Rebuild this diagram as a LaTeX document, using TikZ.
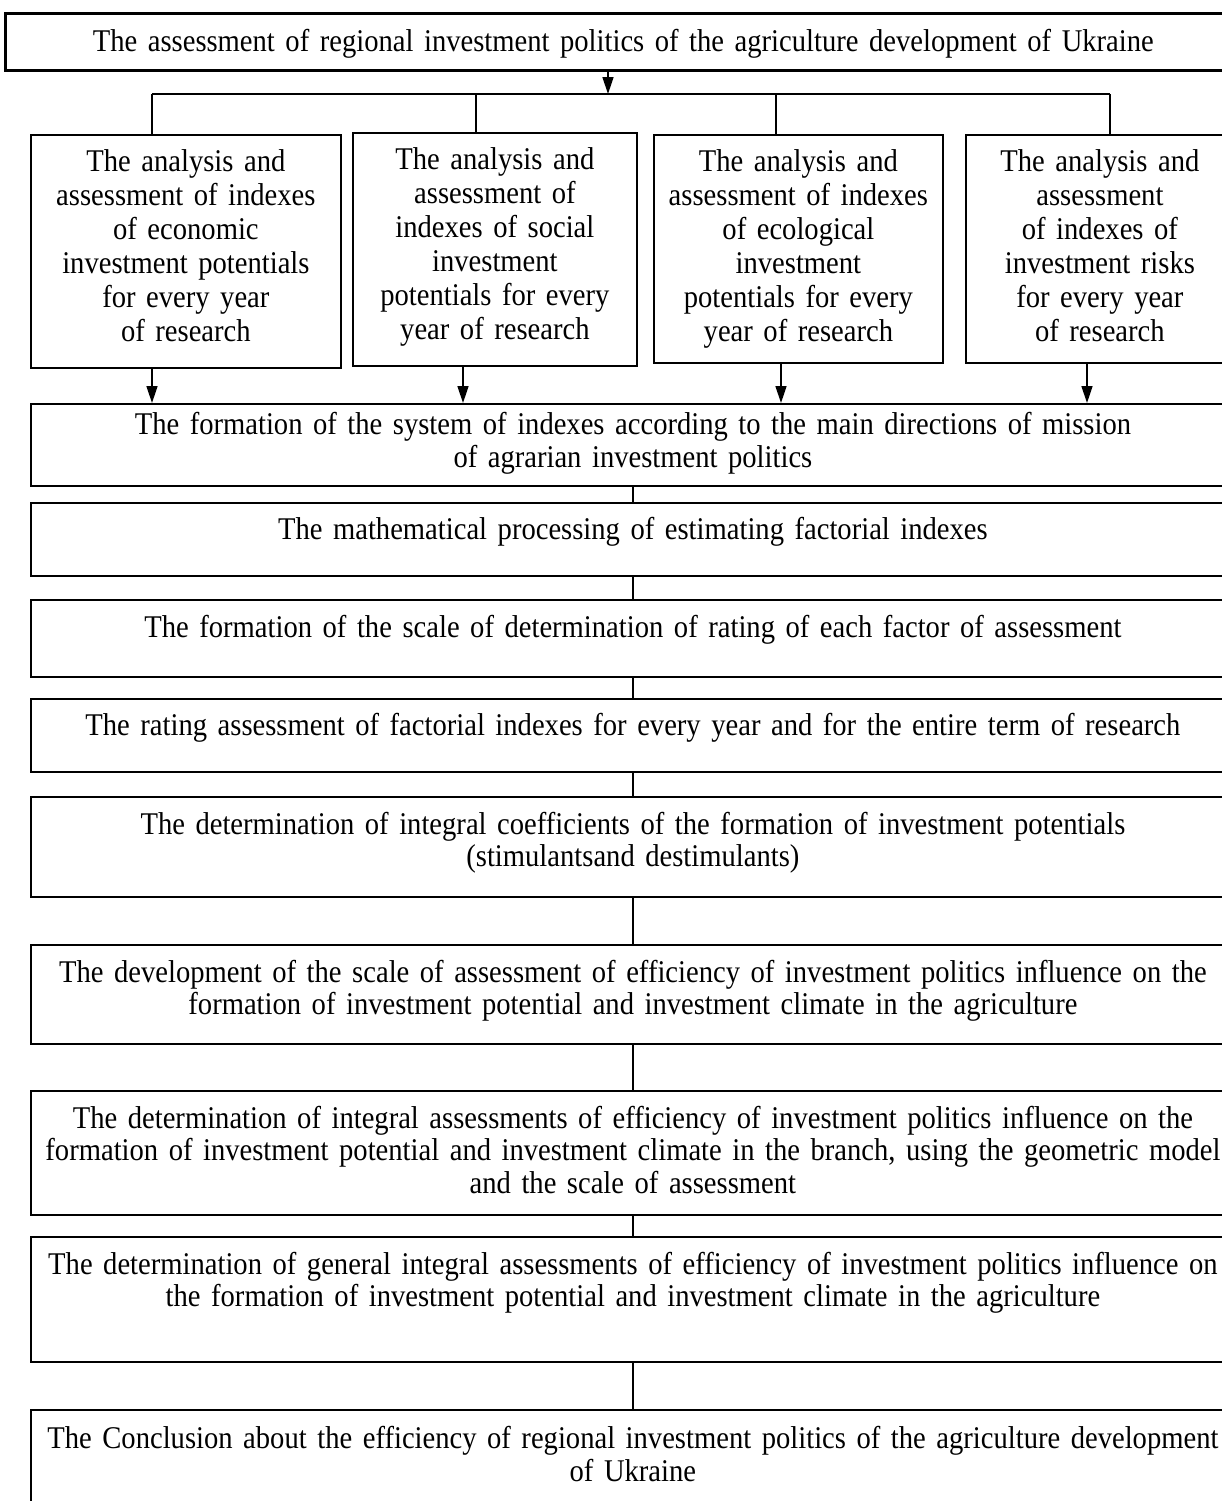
\documentclass[tikz,border=0pt]{standalone}
\usepackage{fontspec}
\setmainfont{Liberation Serif}[FakeStretch=0.905, WordSpace=0.85]
\usetikzlibrary{arrows.meta}

\begin{document}
\begin{tikzpicture}[
            x=0.5pt, y=-0.5pt,
            box/.style={draw, line width=0.9pt, anchor=north west, inner sep=0pt,
                align=center, text height=18.75pt},
            small/.style={box, text height=18.5pt, font=\fontsize{15.8}{17}\selectfont},
            wide/.style={box, text width=602pt, font=\fontsize{15.8}{16.25}\selectfont},
            link/.style={line width=0.7pt},
            flow/.style={link, -{Triangle[length=8.5pt,width=5.5pt]}},
            busline/.style={line width=1.3pt}
            ]
        \useasboundingbox (0,0) rectangle (1222,1501);
        \clip (0,0) rectangle (1222,1501);

        % head of the scheme
        \node[box, line width=1.3pt, text width=618pt, text height=19pt, text depth=9.5pt,
            font=\fontsize{15.8}{17}\selectfont] (top) at (4,12)
            {The assessment of regional investment politics of the agriculture development of Ukraine};

        % four analysis blocks
        \node[small, text width=155pt, text depth=98pt] (a1) at (30,134)
            {The analysis and\\assessment of indexes\\of economic\\investment potentials\\for every year\\of research};
        \node[small, text width=142pt, text depth=98pt] (a2) at (352,132)
            {The analysis and\\assessment of\\indexes of social\\investment\\potentials for every\\year of research};
        \node[small, text width=144.5pt, text depth=95.5pt] (a3) at (653,134)
            {The analysis and\\assessment of indexes\\of ecological\\investment\\potentials for every\\year of research};
        \node[small, text width=134pt, text depth=95.5pt] (a4) at (965,134)
            {The analysis and\\assessment\\of indexes of\\investment risks\\for every year\\of research};

        % chain of stages
        \node[wide, text height=15.5pt, text depth=25.5pt] (f1) at (30,403)
            {The formation of the system of indexes according to the main directions of mission\\of agrarian investment politics};
        \node[wide, text height=18.5pt, text depth=18pt] (m) at (30,502)
            {The mathematical processing of estimating factorial indexes};
        \node[wide, text depth=19.75pt] (s) at (30,599)
            {The formation of the scale of determination of rating of each factor of assessment};
        \node[wide, text height=18.5pt, text depth=18pt] (r) at (30,698)
            {The rating assessment of factorial indexes for every year and for the entire term of research};
        \node[wide, text depth=31.25pt] (c) at (30,796)
            {The determination of integral coefficients of the formation of investment potentials\\(stimulantsand destimulants)};
        \node[wide, text depth=30.75pt] (d) at (30,944)
            {The development of the scale of assessment of efficiency of investment politics influence on the\\formation of investment potential and investment climate in the agriculture};
        \node[wide, text depth=43.25pt] (g) at (30,1090)
            {The determination of integral assessments of efficiency of investment politics influence on the\\formation of investment potential and investment climate in the branch, using the geometric model\\and the scale of assessment};
        \node[wide, text depth=43.75pt] (gi) at (30,1236)
            {The determination of general integral assessments of efficiency of investment politics influence on\\the formation of investment potential and investment climate in the agriculture};
        \node[wide, text height=19.5pt, text depth=36pt] (con) at (30,1409)
            {The Conclusion about the efficiency of regional investment politics of the agriculture development\\of Ukraine};

        % connectors
        \coordinate (bus) at (608,94);
        \coordinate (br1) at (152,94);
        \coordinate (br2) at (476,94);
        \coordinate (br3) at (776,94);
        \coordinate (br4) at (1110,94);
        \coordinate (dn1) at (152,0);
        \coordinate (dn2) at (463,0);
        \coordinate (dn3) at (781,0);
        \coordinate (dn4) at (1087,0);

        \draw[flow] (bus |- top.south) -- (bus);
        \draw[busline] (br1) -- (br4);
        \foreach \i in {1,...,4} {
            \draw[link] (br\i) -- (br\i |- a\i.north);
            \draw[flow] (a\i.south -| dn\i) -- (f1.north -| dn\i);
        }
        \foreach \u/\v in {f1/m, m/s, s/r, r/c, c/d, d/g, g/gi, gi/con}
            \draw[link] (\u.south) -- (\v.north);
        \end{tikzpicture}
\end{document}
